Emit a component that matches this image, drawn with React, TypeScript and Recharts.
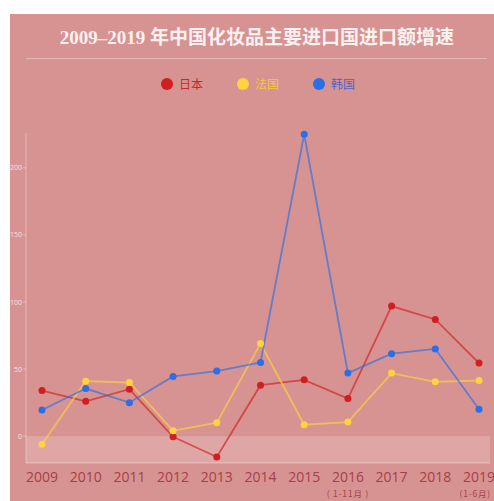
import React from "react"
import {
    LineChart, Line, XAxis, YAxis, ReferenceArea, Legend,
} from "recharts"

const years = ["2009", "2010", "2011", "2012", "2013", "2014", "2015", "2016", "2017", "2018", "2019"]
const subLabels: Record<string, string> = { "2016": "( 1-11月 )", "2019": "(1-6月)" }

const japan = [34, 26, 35, -0.5, -15.5, 38, 42, 28, 97, 87, 54.5]
const france = [-6, 41, 40, 4, 10, 69, 8.5, 10.5, 47, 40.5, 41.5]
const korea = [19.5, 35.5, 25, 44.5, 48.5, 55, 225, 47, 61.5, 65, 20]

const yTicks = [0, 50, 100, 150, 200]

const SERIES = [
    { key: "japan", name: "日本", color: "#cf1f1f", text: "#c42a2a" },
    { key: "france", name: "法国", color: "#ffd23f", text: "#f7c63c" },
    { key: "korea", name: "韩国", color: "#2a6ee8", text: "#4f63c4" },
]

const data = years.map((y, i) => ({ year: y, japan: japan[i], france: france[i], korea: korea[i] }))

const BG = "#d79392"
const PAD_L = 16
const PAD_R = 11

function YearTick({ x, y, payload, index }: any) {
    const sub = subLabels[payload.value]
    const last = index === years.length - 1
    return (
        <g>
            <text x={x} y={y + 11} textAnchor="middle" fontSize={14} fill="#a63f47"
                  fontFamily="'Open Sans', sans-serif">
                {payload.value}
            </text>
            {sub && (
                <text x={last ? x + PAD_R + 1 : x} y={y + 26} textAnchor={last ? "end" : "middle"}
                      fontSize={8.5} letterSpacing={0.8} fill="#a63f47"
                      fontFamily="'Noto Sans CJK SC', sans-serif">
                    {sub}
                </text>
            )}
        </g>
    )
}

// band below zero spans the whole plot width, including the axis padding
function NegBand({ x, y, width, height }: any) {
    return <rect x={x - PAD_L} y={y} width={width + PAD_L + PAD_R} height={height}
                 fill="#ffffff" fillOpacity={0.18} />
}

function LegendContent() {
    return (
        <div style={{ display: "flex", gap: 34, marginLeft: 151, fontSize: 12,
            fontFamily: "'Noto Sans CJK SC', sans-serif" }}>
            {SERIES.map((s) => (
                <div key={s.key} style={{ display: "flex", alignItems: "center", gap: 6 }}>
                    <span style={{ width: 12, height: 12, borderRadius: 6, background: s.color,
                        display: "inline-block" }} />
                    <span style={{ color: s.text }}>{s.name}</span>
                </div>
            ))}
        </div>
    )
}

export default function App() {
    return (
        <div style={{ position: "absolute", left: 10, top: 14, width: 484, height: 487, background: BG,
            overflow: "hidden" }}>
            <div style={{ position: "absolute", left: 0, top: 8, width: 484, textAlign: "center",
                color: "#fbf1f1", fontSize: 19, fontWeight: "bold", paddingLeft: 10, boxSizing: "border-box",
                fontFamily: "'Liberation Serif', 'Noto Sans CJK SC', serif" }}>
                2009–2019 年中国化妆品主要进口国进口额增速
            </div>
            <div style={{ position: "absolute", left: 16, top: 44, width: 461, height: 1,
                background: "rgba(255,255,255,0.35)" }} />
            <LineChart width={484} height={487} data={data}
                       margin={{ top: 102, right: 4, bottom: 8, left: 0 }}>
                <ReferenceArea y1={-20} y2={0} shape={<NegBand />} ifOverflow="visible" />
                <XAxis dataKey="year" height={30} padding={{ left: PAD_L, right: PAD_R }}
                       axisLine={{ stroke: "rgba(255,255,255,0.35)" }} tickLine={false}
                       tick={<YearTick />} interval={0} />
                <YAxis width={16} domain={[-20, 226]} ticks={yTicks} tickSize={3} tickMargin={1}
                       axisLine={{ stroke: "rgba(255,255,255,0.35)" }}
                       tickLine={{ stroke: "rgba(255,255,255,0.35)" }}
                       tick={{ fill: "rgba(255,255,255,0.75)", fontSize: 7, fontFamily: "'Open Sans', sans-serif" }} />
                <Legend verticalAlign="top" content={<LegendContent />}
                        wrapperStyle={{ top: 61, left: 0, width: 484 }} />
                {SERIES.map((s) => (
                    <Line key={s.key} dataKey={s.key} name={s.name} type="linear"
                          stroke={s.color} strokeOpacity={0.65} strokeWidth={1.8}
                          dot={{ r: 3.5, fill: s.color, stroke: "none", fillOpacity: 1 }}
                          isAnimationActive={false} />
                ))}
            </LineChart>
        </div>
    )
}
